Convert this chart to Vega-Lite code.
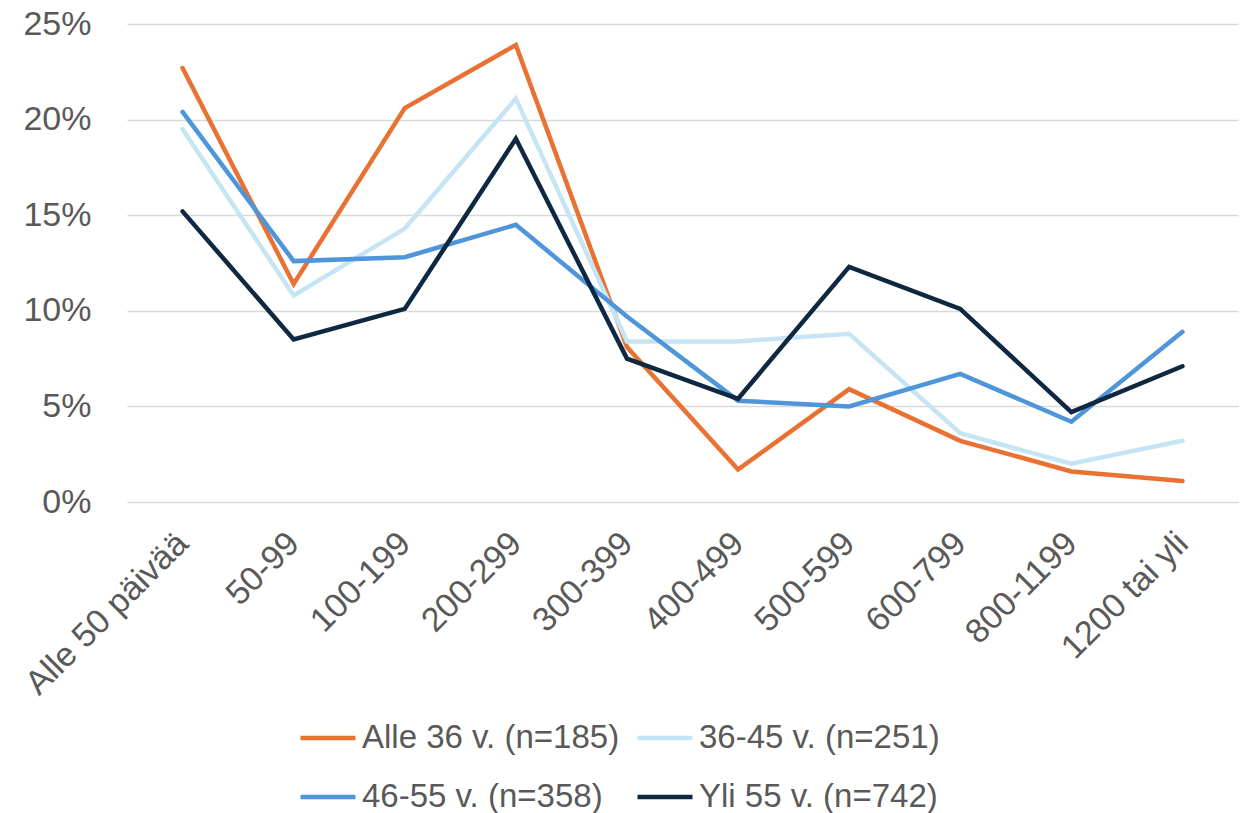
{
  "$schema": "https://vega.github.io/schema/vega-lite/v6.json",
  "autosize": {"type": "none"},
  "width": 1111,
  "height": 478,
  "padding": {"left": 127, "top": 24, "right": 5, "bottom": 311},
  "background": "white",
  "config": {"view": {"stroke": null}, "font": "Liberation Sans"},
  "data": {"values": [
    {"g": "Alle 36 v. (n=185)", "c": "Alle 50 päivää", "v": 0.227},
    {"g": "Alle 36 v. (n=185)", "c": "50-99", "v": 0.114},
    {"g": "Alle 36 v. (n=185)", "c": "100-199", "v": 0.206},
    {"g": "Alle 36 v. (n=185)", "c": "200-299", "v": 0.239},
    {"g": "Alle 36 v. (n=185)", "c": "300-399", "v": 0.081},
    {"g": "Alle 36 v. (n=185)", "c": "400-499", "v": 0.017},
    {"g": "Alle 36 v. (n=185)", "c": "500-599", "v": 0.059},
    {"g": "Alle 36 v. (n=185)", "c": "600-799", "v": 0.032},
    {"g": "Alle 36 v. (n=185)", "c": "800-1199", "v": 0.016},
    {"g": "Alle 36 v. (n=185)", "c": "1200 tai yli", "v": 0.011},
    {"g": "36-45 v. (n=251)", "c": "Alle 50 päivää", "v": 0.195},
    {"g": "36-45 v. (n=251)", "c": "50-99", "v": 0.108},
    {"g": "36-45 v. (n=251)", "c": "100-199", "v": 0.143},
    {"g": "36-45 v. (n=251)", "c": "200-299", "v": 0.211},
    {"g": "36-45 v. (n=251)", "c": "300-399", "v": 0.084},
    {"g": "36-45 v. (n=251)", "c": "400-499", "v": 0.084},
    {"g": "36-45 v. (n=251)", "c": "500-599", "v": 0.088},
    {"g": "36-45 v. (n=251)", "c": "600-799", "v": 0.036},
    {"g": "36-45 v. (n=251)", "c": "800-1199", "v": 0.020},
    {"g": "36-45 v. (n=251)", "c": "1200 tai yli", "v": 0.032},
    {"g": "46-55 v. (n=358)", "c": "Alle 50 päivää", "v": 0.204},
    {"g": "46-55 v. (n=358)", "c": "50-99", "v": 0.126},
    {"g": "46-55 v. (n=358)", "c": "100-199", "v": 0.128},
    {"g": "46-55 v. (n=358)", "c": "200-299", "v": 0.145},
    {"g": "46-55 v. (n=358)", "c": "300-399", "v": 0.097},
    {"g": "46-55 v. (n=358)", "c": "400-499", "v": 0.053},
    {"g": "46-55 v. (n=358)", "c": "500-599", "v": 0.050},
    {"g": "46-55 v. (n=358)", "c": "600-799", "v": 0.067},
    {"g": "46-55 v. (n=358)", "c": "800-1199", "v": 0.042},
    {"g": "46-55 v. (n=358)", "c": "1200 tai yli", "v": 0.089},
    {"g": "Yli 55 v. (n=742)", "c": "Alle 50 päivää", "v": 0.152},
    {"g": "Yli 55 v. (n=742)", "c": "50-99", "v": 0.085},
    {"g": "Yli 55 v. (n=742)", "c": "100-199", "v": 0.101},
    {"g": "Yli 55 v. (n=742)", "c": "200-299", "v": 0.190},
    {"g": "Yli 55 v. (n=742)", "c": "300-399", "v": 0.075},
    {"g": "Yli 55 v. (n=742)", "c": "400-499", "v": 0.054},
    {"g": "Yli 55 v. (n=742)", "c": "500-599", "v": 0.123},
    {"g": "Yli 55 v. (n=742)", "c": "600-799", "v": 0.101},
    {"g": "Yli 55 v. (n=742)", "c": "800-1199", "v": 0.047},
    {"g": "Yli 55 v. (n=742)", "c": "1200 tai yli", "v": 0.071}
  ]},
  "mark": {"type": "line", "strokeWidth": 4.5, "strokeJoin": "miter", "strokeCap": "round"},
  "encoding": {
    "x": {
      "field": "c", "type": "nominal", "sort": null,
      "scale": {"type": "point", "padding": 0.5},
      "axis": {
        "title": null, "labelAngle": -45, "labelAlign": "right", "labelBaseline": "middle",
        "labelFontSize": 34, "labelColor": "#595959", "labelPadding": 36, "labelLimit": 400,
        "ticks": false, "domain": false, "grid": false
      }
    },
    "y": {
      "field": "v", "type": "quantitative",
      "scale": {"domain": [0, 0.25], "nice": false},
      "axis": {
        "title": null, "format": ".0%", "values": [0, 0.05, 0.1, 0.15, 0.2, 0.25],
        "labelFontSize": 34, "labelColor": "#595959", "labelPadding": 36,
        "ticks": false, "domain": false, "grid": true, "gridColor": "#D9D9D9", "gridWidth": 1.5
      }
    },
    "color": {
      "field": "g", "type": "nominal",
      "scale": {
        "domain": ["Alle 36 v. (n=185)", "36-45 v. (n=251)", "46-55 v. (n=358)", "Yli 55 v. (n=742)"],
        "range": ["#E97132", "#C5E5F5", "#4E95D9", "#0E2841"]
      },
      "legend": {
        "title": null, "orient": "none", "legendX": 171, "legendY": 684, "columns": 2,
        "direction": "horizontal",
        "symbolType": "stroke", "symbolSize": 3025, "symbolStrokeWidth": 4.5,
        "labelFontSize": 33, "labelColor": "#595959",
        "labelOffset": 4, "rowPadding": 12, "columnPadding": 8, "labelLimit": 400
      }
    }
  }
}
